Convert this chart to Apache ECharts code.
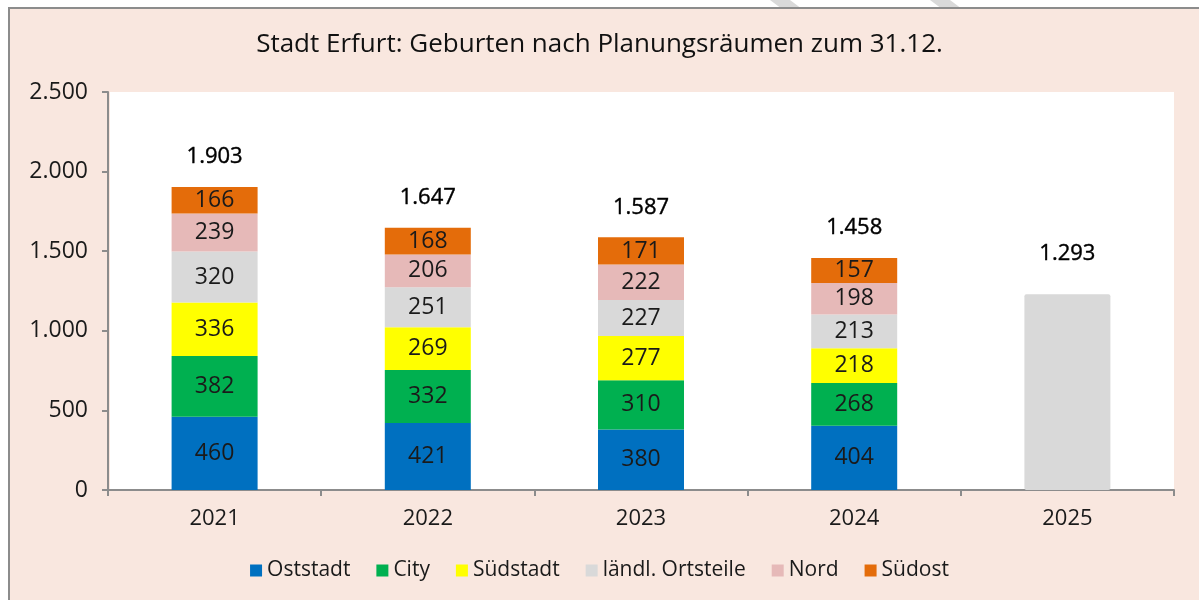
<!DOCTYPE html>
<html>
<head>
<meta charset="utf-8">
<script src="https://cdn.jsdelivr.net/npm/echarts@6/dist/echarts.min.js"></script>
<style>
  html, body { margin: 0; padding: 0; background: #ffffff; }
  #chart { width: 1199px; height: 600px; }
</style>
</head>
<body>
<div id="chart"></div>
<script>
// Daten
const years = ['2021', '2022', '2023', '2024', '2025'];
const seriesNames = ['Oststadt', 'City', 'Südstadt', 'ländl. Ortsteile', 'Nord', 'Südost'];
const oststadt = [460, 421, 380, 404, null];
const city = [382, 332, 310, 268, null];
const suedstadt = [336, 269, 277, 218, null];
const laendl = [320, 251, 227, 213, null];
const nord = [239, 206, 222, 198, null];
const suedost = [166, 168, 171, 157, null];
const gesamt2025 = [null, null, null, null, 1230];
const totals = [1903, 1647, 1587, 1458, 1293];
const colors = ['#0070C0', '#00B050', '#FFFF00', '#D9D9D9', '#E6B9B8', '#E46C0A'];

const fmt = v => String(Math.round(v)).replace(/\B(?=(\d{3})+(?!\d))/g, '.');
const FONT = '"Open Sans", sans-serif';

const segData = [oststadt, city, suedstadt, laendl, nord, suedost];

const series = seriesNames.map((name, i) => ({
  name: name,
  type: 'bar',
  stack: 'a',
  barWidth: 86,
  data: segData[i],
  itemStyle: { color: colors[i] },
  label: {
    show: true, position: 'inside', color: '#1a1a1a',
    fontFamily: FONT, fontSize: 23,
    formatter: p => fmt(p.value)
  }
}));

// grauer Balken 2025
series.push({
  name: '2025',
  type: 'bar',
  stack: 'a',
  barWidth: 86,
  data: gesamt2025,
  itemStyle: { color: '#D9D9D9', borderRadius: 2 }
});

// Summen über den Balken
series.push({
  name: 'Summe',
  type: 'scatter',
  symbolSize: 0,
  silent: true,
  itemStyle: { opacity: 1 },
  data: totals,
  label: {
    show: true, position: 'top', distance: 19, color: '#000',
    fontFamily: FONT, fontSize: 22,
    textBorderColor: '#000', textBorderWidth: 0.4,
    formatter: p => fmt(p.value)
  }
});

const chart = echarts.init(document.getElementById('chart'));
chart.setOption({
  animation: false,
  backgroundColor: '#ffffff',
  graphic: [
    // Wasserzeichen-Streifen oben
    { type: 'polygon', z: -2, shape: { points: [[770, 0], [790, 0], [802, 9], [782, 9]] }, style: { fill: '#D9D9D9' } },
    { type: 'polygon', z: -2, shape: { points: [[930, 0], [950, 0], [962, 9], [942, 9]] }, style: { fill: '#D9D9D9' } },
    { type: 'rect', z: -1, shape: { x: 9, y: 8, width: 1200, height: 600 },
      style: { fill: '#F9E7DF', stroke: '#8c8c8c', lineWidth: 2 } },
    { type: 'rect', z: -1, shape: { x: 110, y: 92, width: 1064, height: 398 },
      style: { fill: '#ffffff' } }
  ],
  title: {
    text: 'Stadt Erfurt: Geburten nach Planungsräumen zum 31.12.',
    left: 'center', top: 27,
    textStyle: { fontFamily: FONT, fontSize: 26, fontWeight: 500, color: '#111' }
  },
  legend: {
    data: seriesNames,
    bottom: 14, left: 'center',
    itemWidth: 12, itemHeight: 12, itemGap: 26,
    icon: 'rect',
    textStyle: { fontFamily: FONT, fontSize: 21, color: '#1a1a1a' }
  },
  grid: { left: 108, right: 25, top: 92, bottom: 110 },
  xAxis: {
    type: 'category',
    data: years,
    axisLine: { lineStyle: { color: '#8c8c8c', width: 2 } },
    axisTick: { show: true, length: 6, lineStyle: { color: '#8c8c8c', width: 2 } },
    axisLabel: { fontFamily: FONT, fontSize: 22, color: '#1a1a1a', margin: 18 }
  },
  yAxis: {
    type: 'value',
    min: 0, max: 2500, interval: 500,
    splitLine: { show: false },
    axisLine: { show: true, lineStyle: { color: '#8c8c8c', width: 2 } },
    axisTick: { show: true, length: 6, lineStyle: { color: '#8c8c8c', width: 2 } },
    axisLabel: { fontFamily: FONT, fontSize: 23, color: '#1a1a1a', margin: 20, formatter: v => fmt(v) }
  },
  series: series
});
</script>
</body>
</html>
